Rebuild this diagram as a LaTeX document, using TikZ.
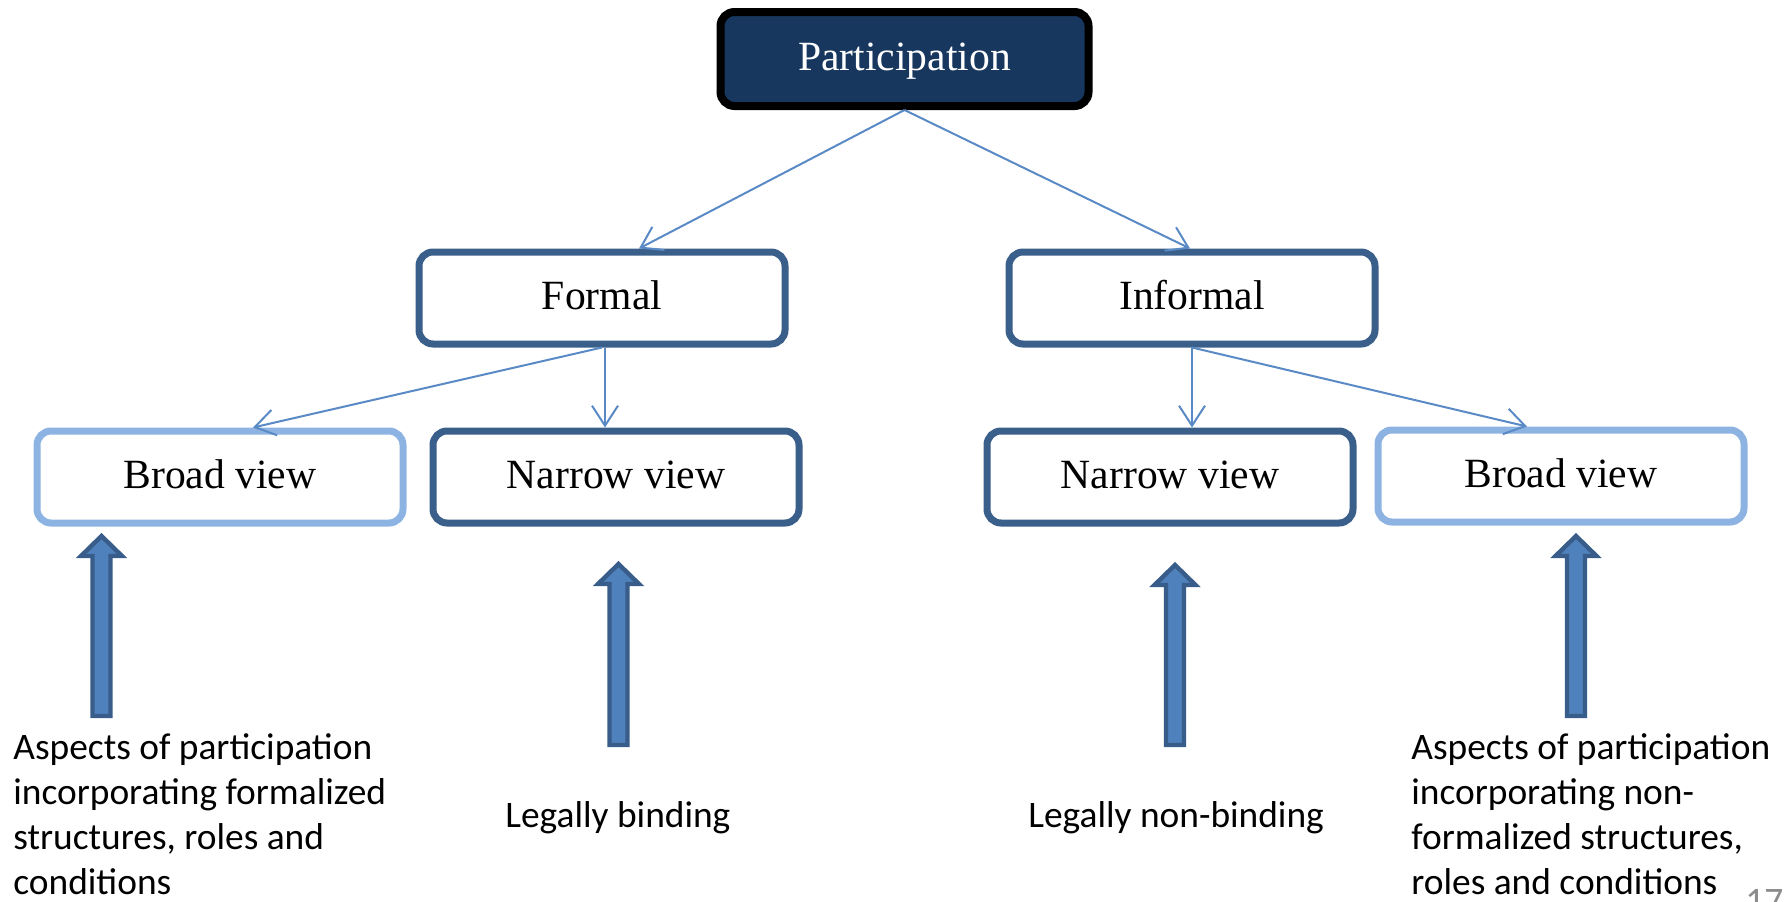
\documentclass[tikz,border=0pt]{standalone}
\usepackage{fontspec}
\setmainfont{Liberation Serif}
\newfontfamily\notefont{Carlito}
\usetikzlibrary{arrows.meta}

\definecolor{navyfill}{HTML}{17375E}
\definecolor{boxdark}{HTML}{3A5F8B}
\definecolor{boxlight}{HTML}{8DB3E2}
\definecolor{linkblue}{HTML}{5A8AC6}
\definecolor{arrowfill}{HTML}{4F81BD}
\definecolor{arrowedge}{HTML}{385D8A}
\definecolor{pagegray}{HTML}{8C8C8C}

% upward block arrow: centre x, tip y, bottom y
\newcommand{\blockup}[3]{%
  \draw[blockarrow] ({#1-9},#3) -- ({#1-9},{#2+20}) -- ({#1-20.5},{#2+20})
    -- (#1,#2) -- ({#1+20.5},{#2+20}) -- ({#1+9},{#2+20}) -- ({#1+9},#3) -- cycle;}

\begin{document}
\begin{tikzpicture}[x=0.5pt,y=-0.5pt,
  box/.style={draw, rounded corners=7pt, minimum width=183pt, minimum height=46pt,
    line width=3.5pt, fill=white, inner sep=0pt, text height=14pt, text depth=3pt,
    font=\fontsize{20.8}{24}\selectfont},
  darkbox/.style={box, draw=boxdark},
  lightbox/.style={box, draw=boxlight},
  topbox/.style={box, draw=black, fill=navyfill, text=white, line width=4pt,
    minimum width=184pt, minimum height=47pt},
  link/.style={draw=linkblue, line width=1pt, -{Straight Barb[length=10pt,width=13pt]}},
  blockarrow/.style={fill=arrowfill, draw=arrowedge, line width=2.2pt, line join=miter},
  note/.style={inner sep=0pt, align=left, font=\notefont\fontsize{18.7}{22.6}\selectfont}]

\useasboundingbox (0,0) rectangle (1789,901);

% boxes
\node[topbox]   (part)     at (904.5,59) {Participation};
\node[darkbox]  (formal)   at (602,298)  {Formal};
\node[darkbox]  (informal) at (1192,298) {Informal};
\node[lightbox] (broadL)   at (220,477)  {Broad view};
\node[darkbox]  (narrowL)  at (616,477)  {Narrow view};
\node[darkbox]  (narrowR)  at (1170,477) {Narrow view};
\node[lightbox] (broadR)   at (1561,476) {Broad view};

% connectors
\draw[link] (part.south) -- ([xshift=18.5pt]formal.north);
\draw[link] (part.south) -- ([xshift=-1pt]informal.north);
\draw[link] (formal.south) -- ([xshift=16.5pt]broadL.north);
\draw[link] ([xshift=1.5pt]formal.south) -- ([xshift=-5.5pt]narrowL.north);
\draw[link] (informal.south) -- ([xshift=11pt]narrowR.north);
\draw[link] (informal.south) -- ([xshift=-17pt]broadR.north);

% block arrows
\blockup{101.5}{536}{716}
\blockup{618.5}{564}{745}
\blockup{1175}{565}{745}
\blockup{1576}{536}{716}

% notes
\node[note, anchor=north west] (noteL) at (13,733)
  {Aspects of participation\\incorporating formalized\\structures, roles and\\conditions};
\node[note, anchor=north west] (noteR) at (1411,733)
  {Aspects of participation\\incorporating non-\\formalized structures,\\roles and conditions};
\node[note, anchor=base west] (bind)    at (505,827)  {Legally binding};
\node[note, anchor=base west] (nonbind) at (1028,827) {Legally non-binding};
\node[note, anchor=base west, text=pagegray] (pagenum) at (1745,913) {17};
\end{tikzpicture}
\end{document}
